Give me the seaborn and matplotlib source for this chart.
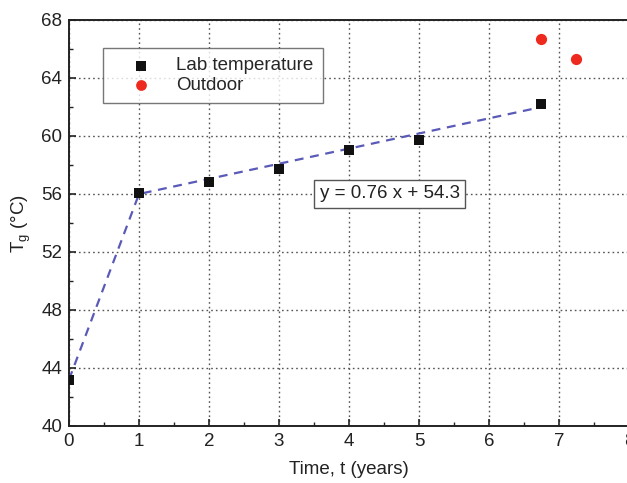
import matplotlib
matplotlib.use("Agg")
import matplotlib.pyplot as plt
import seaborn as sns
import pandas as pd
from matplotlib.ticker import MultipleLocator

# Data
lab_time = [0, 1, 2, 3, 4, 5, 6.75]
lab_tg = [43.2, 56.1, 56.8, 57.75, 59.0, 59.7, 62.2]
outdoor_time = [6.75, 7.25]
outdoor_tg = [66.7, 65.3]
trend_time = [0, 1, 6.75]
trend_tg = [43.2, 56.0, 62.0]
fit_label = "y = 0.76 x + 54.3"

sns.set_theme(style="white")
plt.rcParams['font.family'] = ['Liberation Sans', 'DejaVu Sans']

fig = plt.figure(figsize=(6.27, 4.83), dpi=100)
ax = fig.add_axes([69/627, 57/483, 560/627, 406/483])

lab = pd.DataFrame({"t": lab_time, "Tg": lab_tg})
out = pd.DataFrame({"t": outdoor_time, "Tg": outdoor_tg})
trend = pd.DataFrame({"t": trend_time, "Tg": trend_tg})

sns.lineplot(data=trend, x="t", y="Tg", ax=ax, color="#5a5ab8", lw=1.6,
             linestyle=(0, (4, 3)), zorder=3, legend=False)
sns.scatterplot(data=lab, x="t", y="Tg", ax=ax, marker="s", s=60, color="#111111",
                edgecolor="#111111", linewidth=0, zorder=4, label="Lab temperature")
sns.scatterplot(data=out, x="t", y="Tg", ax=ax, marker="o", s=65, color="#ee2a1e",
                edgecolor="#ee2a1e", linewidth=0, zorder=4, label="Outdoor")

ax.set_xlim(0, 8)
ax.set_ylim(40, 68)
ax.xaxis.set_major_locator(MultipleLocator(1))
ax.xaxis.set_minor_locator(MultipleLocator(0.5))
ax.yaxis.set_major_locator(MultipleLocator(4))
ax.yaxis.set_minor_locator(MultipleLocator(2))
ax.tick_params(which="major", direction="in", length=5, width=1.2, labelsize=13.5,
               colors="#222222", pad=5)
ax.tick_params(which="minor", direction="in", length=3, width=1.0, colors="#222222")
ax.tick_params(axis="x", which="both", bottom=True)
ax.tick_params(axis="y", which="both", left=True)

ax.grid(True, which="major", color="#555555", linestyle=(0, (1.2, 2.2)), linewidth=1.0)
for s in ax.spines.values():
    s.set_color("#222222")
    s.set_linewidth(1.4)

ax.set_xlabel("Time, t (years)", fontsize=13.5, color="#222222", labelpad=8)
ax.set_ylabel("T$_\\mathregular{g}$ (°C)", fontsize=13.5, color="#222222", labelpad=6)

leg = ax.legend(loc="upper left", bbox_to_anchor=(34/560, 1 - 28/406), fontsize=13.5,
                frameon=True, fancybox=False, edgecolor="#555555", borderpad=0.5,
                handletextpad=0.4, labelspacing=0.1, borderaxespad=0, handlelength=3.0)
leg.get_frame().set_linewidth(1.0)
leg.get_frame().set_boxstyle("square", pad=0.0)
for h in leg.legend_handles:
    h.set_sizes([60])

ax.text(4.58, 56.0, fit_label, fontsize=13.5, color="#222222", ha="center", va="center",
        bbox=dict(boxstyle="square,pad=0.3", fc="white", ec="#555555", lw=1.0), zorder=5)

fig.savefig("out.png", dpi=100)
